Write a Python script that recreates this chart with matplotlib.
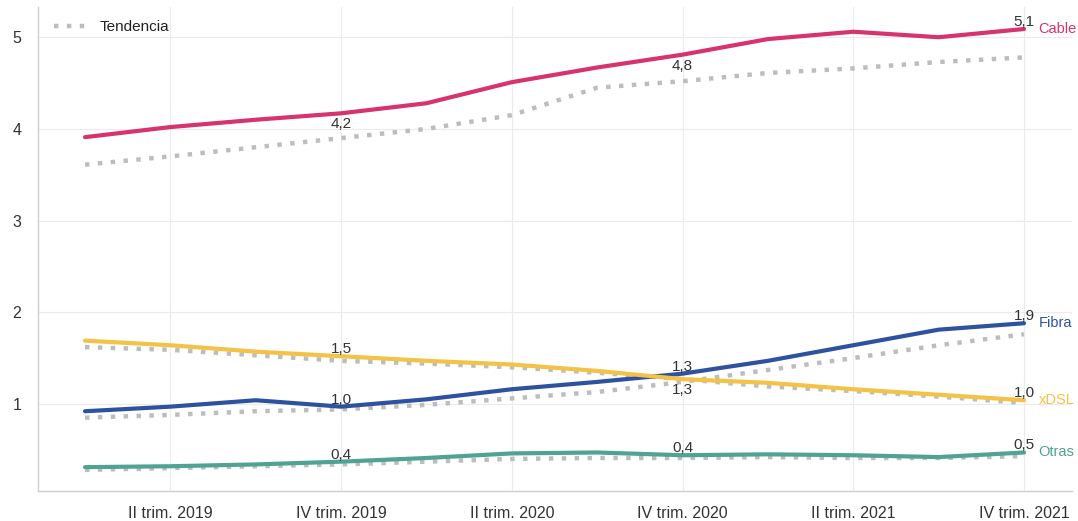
import numpy as np
import matplotlib.pyplot as plt

plt.rcParams['font.family'] = ['Liberation Sans', 'DejaVu Sans']

# Trimestres: I trim. 2019 ... IV trim. 2021
quarters = ["I trim. 2019", "II trim. 2019", "III trim. 2019", "IV trim. 2019",
            "I trim. 2020", "II trim. 2020", "III trim. 2020", "IV trim. 2020",
            "I trim. 2021", "II trim. 2021", "III trim. 2021", "IV trim. 2021"]

cable = [3.91, 4.02, 4.10, 4.17, 4.28, 4.51, 4.67, 4.81, 4.98, 5.06, 5.00, 5.09]
cable_trend = [3.61, 3.70, 3.80, 3.90, 4.00, 4.15, 4.45, 4.52, 4.61, 4.66, 4.73, 4.78]

fibra = [0.92, 0.97, 1.04, 0.97, 1.05, 1.16, 1.24, 1.33, 1.47, 1.64, 1.81, 1.88]
fibra_trend = [0.85, 0.88, 0.92, 0.94, 0.99, 1.06, 1.13, 1.24, 1.37, 1.50, 1.64, 1.76]

xdsl = [1.69, 1.64, 1.57, 1.52, 1.47, 1.43, 1.36, 1.27, 1.23, 1.16, 1.10, 1.04]
xdsl_trend = [1.62, 1.59, 1.53, 1.47, 1.44, 1.40, 1.34, 1.27, 1.19, 1.14, 1.08, 1.01]

otras = [0.31, 0.32, 0.34, 0.37, 0.41, 0.46, 0.47, 0.44, 0.45, 0.44, 0.42, 0.47]
otras_trend = [0.28, 0.30, 0.32, 0.34, 0.37, 0.40, 0.41, 0.41, 0.42, 0.41, 0.41, 0.43]

names = ["Cable", "Fibra", "xDSL", "Otras"]
colors = ["#D6336F", "#2E52A0", "#F3C246", "#4FA393"]
series = [cable, fibra, xdsl, otras]
trends = [cable_trend, fibra_trend, xdsl_trend, otras_trend]
label_idx = [3, 7, 11]
# value labels drawn under the line instead of above
below = {("Cable", 3), ("Cable", 7), ("xDSL", 7)}

x = np.arange(len(quarters))

fig = plt.figure(figsize=(10.78, 5.21), dpi=100)
ax = fig.add_axes([0.0353, 0.0576, 0.959, 0.929])

trend_color = "#BDBDBD"
for i, tr in enumerate(trends):
    ax.plot(x, tr, color=trend_color, lw=3.2, dashes=(1, 1.9),
            label="Tendencia" if i == 0 else None, zorder=2)

for name, col, s in zip(names, colors, series):
    ax.plot(x, s, color=col, lw=3.0, solid_capstyle="round", zorder=3)
    for k in label_idx:
        txt = f"{s[k]:.1f}".replace(".", ",")
        if (name, k) in below:
            ax.annotate(txt, (x[k], s[k]), xytext=(0, -3), textcoords="offset points",
                        ha="center", va="top", fontsize=11, color="#333333", zorder=4)
        else:
            ax.annotate(txt, (x[k], s[k]), xytext=(0, 0), textcoords="offset points",
                        ha="center", va="bottom", fontsize=11, color="#333333", zorder=4)
    ax.annotate(name, (x[-1], s[-1]), xytext=(10.5, 0), textcoords="offset points",
                ha="left", va="center", fontsize=10.5, color=col, annotation_clip=False)

ax.set_xlim(-0.55, 11.56)
ax.set_ylim(0.05, 5.33)
ax.set_xticks(x[1::2])
ax.set_xticklabels(quarters[1::2])
ax.set_yticks([1, 2, 3, 4, 5])
ax.set_yticklabels(["1", "2", "3", "4", "5"])
ax.tick_params(axis="both", length=0, labelsize=11.5, colors="#333333")
ax.tick_params(axis="x", pad=11)
ax.tick_params(axis="y", pad=12)

ax.grid(True, color="#EBEBEB", lw=0.8, zorder=0)
for side in ["top", "right"]:
    ax.spines[side].set_visible(False)
for side in ["left", "bottom"]:
    ax.spines[side].set_color("#CFCFCF")
    ax.spines[side].set_linewidth(1.0)

leg = ax.legend(loc="upper left", frameon=False, fontsize=11, handlelength=2.2,
                borderaxespad=0.3, bbox_to_anchor=(0.005, 0.995))
for t in leg.get_texts():
    t.set_color("#222222")

fig.savefig("out.png", dpi=100)
